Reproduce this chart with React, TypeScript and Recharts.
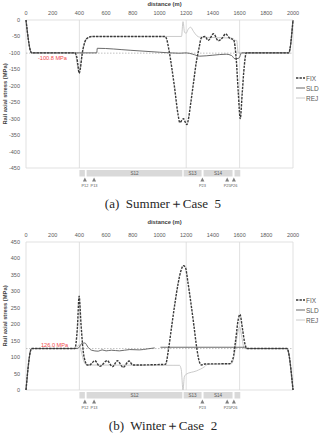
import { LineChart, Line, XAxis, YAxis, ReferenceLine, ReferenceArea, ReferenceDot } from 'recharts'

const FONT = '"Liberation Sans", Arial, sans-serif'
const SERIF = '"Liberation Serif", "DejaVu Serif", serif'

const distanceTicks = [0, 200, 400, 600, 800, 1000, 1200, 1400, 1600, 1800, 2000]
const summerTicks = [-450, -400, -350, -300, -250, -200, -150, -100, -50, 0]
const winterTicks = [0, 50, 100, 150, 200, 250, 300, 350, 400, 450]

// [distance (m), rail axial stress (MPa)]
const summerFix: [number, number | null][] = [
  [0, 0], [42, -100], [366, -100], [380, -112], [390, -140], [398, -162], [408, -145], [420, -105],
  [440, -68], [460, -55], [500, -50], [1040, -50], [1055, -60], [1071, -92], [1111, -200], [1140, -290],
  [1152, -312], [1168, -305], [1180, -300], [1192, -310], [1205, -318], [1215, -305], [1235, -250],
  [1255, -190], [1275, -130], [1295, -88], [1313, -55], [1340, -50], [1365, -62], [1405, -42],
  [1440, -63], [1470, -55], [1495, -42], [1525, -55], [1555, -60], [1575, -120], [1590, -220],
  [1605, -300], [1620, -220], [1635, -140], [1650, -100], [1968, -100], [2000, 0],
]
const summerSld: [number, number | null][] = [
  [0, 0], [42, -100], [530, -100], [534, -86], [780, -92], [1000, -98], [1150, -101], [1200, -100],
  [1250, -104], [1300, -110], [1400, -107], [1500, -104], [1540, -108], [1565, -118], [1595, -116],
  [1615, -100], [1968, -100], [2000, 0],
]
const summerRej: [number, number | null][] = [
  [0, 0], [42, -100], [366, -100], [398, -160], [420, -105], [440, -68], [460, -55], [500, -50],
  [1165, -50], [1176, -5], [1188, -38], [1200, -40], [1215, -28], [1233, -22], [1255, -35],
  [1280, -48], [1300, -52], [1545, -55], [1550, -62], [1578, -62], [1590, -100], [1968, -100], [2000, 0],
]

const winterFix: [number, number | null][] = [
  [0, 0], [42, 126], [366, 126], [385, 190], [398, 285], [412, 200], [428, 120], [445, 85], [460, 76],
  [475, 76], [516, 89], [553, 72], [608, 89], [648, 71], [685, 89], [727, 69], [772, 88], [800, 76],
  [1045, 78], [1068, 125], [1090, 190], [1115, 262], [1140, 325], [1160, 362], [1180, 378],
  [1195, 372], [1212, 330], [1235, 265], [1258, 195], [1280, 125], [1300, 84], [1315, 76],
  [1340, 79], [1525, 80], [1550, 95], [1570, 150], [1590, 215], [1603, 230], [1620, 190],
  [1640, 140], [1655, 126], [1955, 126], [2000, 0],
]
const winterSld: [number, number | null][] = [
  [0, 0], [42, 126], [385, 126], [400, 131], [416, 141], [441, 143], [465, 130], [491, 121],
  [541, 118], [570, 122], [600, 119], [640, 121], [700, 119], [777, 123], [850, 122], [910, 125],
  [964, 128], [985, null], [1007, 130], [1637, 130], [1655, 126], [1955, 126], [2000, 0],
]
const winterRej: [number, number | null][] = [
  [0, 0], [42, 126], [375, 126], [398, 138], [415, 115], [435, 85], [455, 76], [1150, 75],
  [1163, 62], [1176, 0], [1186, 40], [1200, 48], [1276, 58], [1338, 71], [1360, 78], [1540, 80],
  [1562, 110], [1582, 165], [1600, 192], [1615, 165], [1635, 126], [1955, 126], [2000, 0],
]

const gridAt = [400, 1200, 1600]
const sectionFrom = [400, 454, 1181, 1330, 1562]
const sectionTo = [441, 1171, 1315, 1547, 1605]
const sectionNames = ['', 'S12', 'S13', 'S14', '']
const pierNames = ['P12', 'P13', 'P23', 'P25', 'P26']
const pierAt = [441, 510, 1321, 1507, 1557]

const PLOT_H = 148

const lineStyle: Record<string, { stroke: string; width: number; dash?: string }> = {
  FIX: { stroke: '#3a3a3a', width: 1.4, dash: '2.4 1.1' },
  SLD: { stroke: '#5a5a5a', width: 0.9 },
  REJ: { stroke: '#c4c4c4', width: 0.9 },
}

const toPoints = (pairs: [number, number | null][]) => pairs.map(([x, y]) => ({ x, y }))

interface ChartProps {
  top: number
  fix: [number, number | null][]
  sld: [number, number | null][]
  rej: [number, number | null][]
  ticks: number[]
  level: number
  levelText: string
  levelDx: number
  levelDy: number
  titleDy: number
}

function StressChart({ top, fix, sld, rej, ticks, level, levelText, levelDx, levelDy, titleDy }: ChartProps) {
  const lo = ticks[0]
  const hi = ticks[ticks.length - 1]
  const u = (hi - lo) / PLOT_H
  const series: Record<string, [number, number | null][]> = { FIX: fix, SLD: sld, REJ: rej }

  return (
    <div style={{ position: 'absolute', left: 0, top, width: 328, height: 220 }}>
      <LineChart width={328} height={220} margin={{ top: 22, right: 35, bottom: 30, left: 0 }}>
        <XAxis
          dataKey="x"
          type="number"
          orientation="top"
          domain={[0, 2000]}
          ticks={distanceTicks}
          interval={0}
          height={20}
          tickSize={3}
          tickMargin={2}
          tickLine={false}
          axisLine={false}
          tick={{ fontSize: 5.5, fill: '#595959', fontFamily: FONT }}
          label={(p: any) => (
            <text
              x={p.viewBox.x + p.viewBox.width / 2 + 5}
              y={p.viewBox.y + titleDy}
              textAnchor="middle"
              fontSize={5.8}
              fontWeight="bold"
              fill="#404040"
              fontFamily={FONT}
            >
              distance (m)
            </text>
          )}
        />
        <YAxis
          type="number"
          domain={[lo, hi]}
          ticks={ticks}
          interval={0}
          width={26}
          tickSize={3}
          tickMargin={3}
          tickLine={false}
          axisLine={false}
          tick={{ fontSize: 5.5, fill: '#595959', fontFamily: FONT }}
          label={(p: any) => {
            const cy = p.viewBox.y + p.viewBox.height / 2
            return (
              <text
                x={7}
                y={cy}
                transform={`rotate(-90 7 ${cy})`}
                textAnchor="middle"
                fontSize={5.8}
                fontWeight="bold"
                fill="#404040"
                fontFamily={FONT}
              >
                Rail axial stress (MPa)
              </text>
            )
          }}
        />
        <ReferenceArea x1={0} x2={2000} y1={lo} y2={hi} fill="none" stroke="#d9d9d9" strokeWidth={0.8} />
        {gridAt.map((x) => (
          <ReferenceLine key={x} x={x} stroke="#d9d9d9" strokeWidth={0.8} />
        ))}
        <ReferenceLine
          y={level}
          stroke="#a6a6a6"
          strokeWidth={0.7}
          strokeDasharray="1.5 1.5"
          label={(p: any) => (
            <text
              x={p.viewBox.x + levelDx}
              y={p.viewBox.y + levelDy}
              fontSize={5.6}
              fill="#f0484a"
              fontFamily={FONT}
            >
              {levelText}
            </text>
          )}
        />
        {sectionFrom.map((x1, i) => (
          <ReferenceArea
            key={x1}
            x1={x1}
            x2={sectionTo[i]}
            y1={lo - 8.5 * u}
            y2={lo - 2 * u}
            ifOverflow="visible"
            fill="#d9d9d9"
            fillOpacity={1}
            stroke="none"
            label={{ value: sectionNames[i], position: 'center', fontSize: 4.6, fill: '#595959', fontFamily: FONT }}
          />
        ))}
        {pierAt.map((x, i) => (
          <ReferenceDot
            key={x}
            x={x}
            y={lo - 11.5 * u}
            ifOverflow="visible"
            shape={(p: any) => (
              <g>
                <path d={`M${p.cx - 2},${p.cy + 2} L${p.cx + 2},${p.cy + 2} L${p.cx},${p.cy - 2} Z`} fill="#7f7f7f" />
                <text x={p.cx} y={p.cy + 7} textAnchor="middle" fontSize={3.9} fill="#595959" fontFamily={FONT}>
                  {pierNames[i]}
                </text>
              </g>
            )}
          />
        ))}
        {['REJ', 'SLD', 'FIX'].map((name) => (
          <Line
            key={name}
            data={toPoints(series[name])}
            dataKey="y"
            type="monotone"
            stroke={lineStyle[name].stroke}
            strokeWidth={lineStyle[name].width}
            strokeDasharray={lineStyle[name].dash}
            dot={false}
            activeDot={false}
            isAnimationActive={false}
          />
        ))}
      </LineChart>
      <div style={{ position: 'absolute', left: 296, top: 95, fontFamily: FONT }}>
        {['FIX', 'SLD', 'REJ'].map((name) => (
          <div key={name} style={{ display: 'flex', alignItems: 'center', height: 10 }}>
            <svg width={9} height={10}>
              <line
                x1={0}
                x2={9}
                y1={5}
                y2={5}
                stroke={lineStyle[name].stroke}
                strokeWidth={lineStyle[name].width}
                strokeDasharray={lineStyle[name].dash}
              />
            </svg>
            <span style={{ fontSize: 6.5, color: '#595959', marginLeft: 1 }}>{name}</span>
          </div>
        ))}
      </div>
    </div>
  )
}

export default function App() {
  return (
    <div
      style={{
        position: 'absolute',
        left: 0,
        top: 0,
        width: 328,
        height: 437,
        overflow: 'hidden',
        background: '#fff',
      }}
    >
      <StressChart
        top={-22}
        fix={summerFix}
        sld={summerSld}
        rej={summerRej}
        ticks={summerTicks}
        level={-100.8}
        levelText="-100.8 MPa"
        levelDx={12}
        levelDy={6.4}
        titleDy={5.5}
      />
      <div
        style={{
          position: 'absolute',
          left: 0,
          top: 196,
          width: 326,
          textAlign: 'center',
          fontFamily: SERIF,
          fontSize: 13,
          lineHeight: '16px',
          color: '#262626',
          whiteSpace: 'pre',
        }}
      >
        {'(a)  Summer＋Case  5'}
      </div>
      <StressChart
        top={200}
        fix={winterFix}
        sld={winterSld}
        rej={winterRej}
        ticks={winterTicks}
        level={126.0}
        levelText="126.0 MPa"
        levelDx={15}
        levelDy={-1.5}
        titleDy={2}
      />
      <div
        style={{
          position: 'absolute',
          left: 0,
          top: 418,
          width: 326,
          textAlign: 'center',
          fontFamily: SERIF,
          fontSize: 13,
          lineHeight: '16px',
          color: '#262626',
          whiteSpace: 'pre',
        }}
      >
        {'(b)  Winter＋Case  2'}
      </div>
    </div>
  )
}
